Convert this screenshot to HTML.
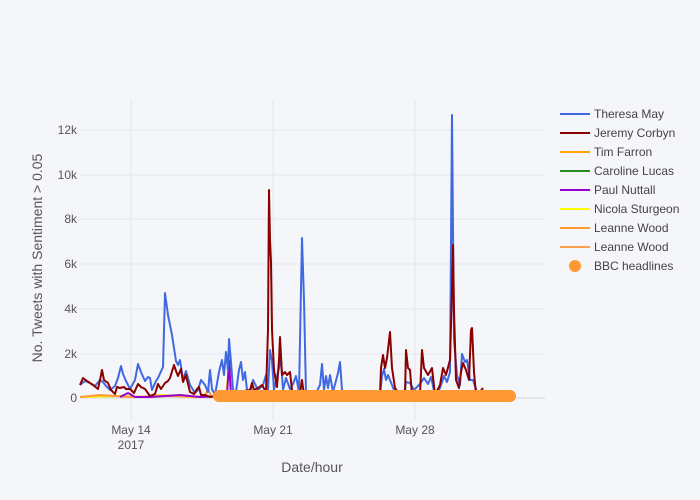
<!DOCTYPE html>
<html><head><meta charset="utf-8"><style>
html,body{margin:0;padding:0;background:#f5f6f9;}
svg{display:block;font-family:"Liberation Sans",sans-serif;}
</style></head><body>
<svg width="700" height="500" viewBox="0 0 700 500">
<rect width="700" height="500" fill="#f5f6f9"/>
<g stroke="#e4e6ee" stroke-width="1">
<line x1="80" x2="545" y1="130" y2="130"/><line x1="80" x2="545" y1="175" y2="175"/>
<line x1="80" x2="545" y1="219" y2="219"/><line x1="80" x2="545" y1="264" y2="264"/>
<line x1="80" x2="545" y1="309" y2="309"/><line x1="80" x2="545" y1="354" y2="354"/>
<line x1="131" x2="131" y1="100" y2="420"/><line x1="273" x2="273" y1="100" y2="420"/><line x1="415" x2="415" y1="100" y2="420"/>
</g>
<line x1="80" x2="545" y1="398" y2="398" stroke="#dfe1e8" stroke-width="1.5"/>
<g font-size="12" fill="#555" text-anchor="end">
<text x="77" y="134">12k</text><text x="77" y="179">10k</text><text x="77" y="223">8k</text>
<text x="77" y="268">6k</text><text x="77" y="313">4k</text><text x="77" y="358">2k</text><text x="77" y="402">0</text>
</g>
<g font-size="12" fill="#555" text-anchor="middle">
<text x="131" y="434">May 14</text><text x="131" y="449">2017</text>
<text x="273" y="434">May 21</text><text x="415" y="434">May 28</text>
</g>
<text x="312" y="472" font-size="14" fill="#555" text-anchor="middle">Date/hour</text>
<text transform="translate(42,258) rotate(-90)" font-size="14" fill="#555" text-anchor="middle">No. Tweets with Sentiment &gt; 0.05</text>
<g fill="none" stroke-width="2" stroke-linejoin="round">
<polyline stroke="#ffee00" points="80,397 120,396 140,397 160,395 190,397 215,396 226,392 229,370 231,395 260,397"/>
<polyline stroke="#ff9a33" points="80,397 100,395 130,397 170,396 205,397 208,388 211,396 240,397"/>
<polyline stroke="#9900cc" points="120,397 128,393 135,397 150,397 180,395 200,397 227,396 229,360 231,396"/>
<polyline stroke="#4169e1" points="80,385 85,381 90,383 95,386 100,380 103,382 106,386 110,390 115,386 118,378 121,366 123,374 126,381 130,389 135,380 138,364 141,372 145,381 148,377 150,378 152,390 156,381 158,378 163,367 165,293 168,315 172,335 176,361 178,365 180,360 183,380 186,371 190,385 195,393 198,390 201,380 205,385 208,392 210,370 212,389 215,395 219,372 222,360 224,375 226,352 228,370 229,339 231,362 233,390 236,392 239,370 241,362 243,380 245,372 247,390 250,395 253,380 258,390 263,385 266,375 268,390 270,350 272,361 274,390 278,372 281,360 283,390 286,378 290,389 293,384 296,376 299,392 302,238 304,300 306,393 310,392 315,395 320,385 322,364 324,390 326,376 328,388 330,375 333,392 338,373 340,362 342,390 350,395 380,395 382,376 384,369 386,380 388,375 392,385 396,395 404,395 406,382 410,383 414,390 420,384 424,378 428,384 431,377 435,395 440,388 444,376 447,382 450,372 452,115 454,340 457,375 460,385 462,354 465,362 467,360 470,380 473,380 477,392 483,392"/>
<polyline stroke="#8b0000" points="80,385 83,378 87,381 93,385 98,389 100,380 102,370 104,380 108,383 111,390 115,394 117,387 120,388 124,387 126,389 130,389 134,393 138,384 141,387 145,389 150,396 155,394 158,384 161,389 165,383 168,381 170,378 174,365 176,371 178,376 181,369 183,382 186,375 188,384 190,392 194,394 197,389 199,387 201,395 205,395 210,397 250,390 252,383 254,390 258,388 262,385 266,392 268,330 269,190 270,240 271,262 272,330 274,370 277,387 279,360 280,337 282,375 285,372 287,375 290,372 292,390 295,395 300,393 302,380 304,395 380,395 381,368 383,355 385,368 387,358 390,332 392,368 395,388 400,395 405,395 406,350 408,368 410,370 412,395 420,395 422,350 424,368 428,375 432,368 435,395 440,385 443,368 446,375 450,360 452,290 453,245 454,310 456,380 459,388 461,372 463,363 466,370 469,380 471,330 472,328 474,372 476,395 480,392 483,388"/>
</g>
<line x1="219" x2="510" y1="396" y2="396" stroke="#ff9933" stroke-width="12" stroke-linecap="round"/>
<g font-size="12" fill="#444">
<line x1="560" x2="590" y1="114" y2="114" stroke="#4169e1" stroke-width="2"/><text x="594" y="118">Theresa May</text>
<line x1="560" x2="590" y1="133" y2="133" stroke="#8b0000" stroke-width="2"/><text x="594" y="137">Jeremy Corbyn</text>
<line x1="560" x2="590" y1="152" y2="152" stroke="#ffa500" stroke-width="2"/><text x="594" y="156">Tim Farron</text>
<line x1="560" x2="590" y1="171" y2="171" stroke="#228b22" stroke-width="2"/><text x="594" y="175">Caroline Lucas</text>
<line x1="560" x2="590" y1="190" y2="190" stroke="#9400d3" stroke-width="2"/><text x="594" y="194">Paul Nuttall</text>
<line x1="560" x2="590" y1="209" y2="209" stroke="#ffff00" stroke-width="2"/><text x="594" y="213">Nicola Sturgeon</text>
<line x1="560" x2="590" y1="228" y2="228" stroke="#ff9933" stroke-width="2"/><text x="594" y="232">Leanne Wood</text>
<line x1="560" x2="590" y1="247" y2="247" stroke="#ffa050" stroke-width="2"/><text x="594" y="251">Leanne Wood</text>
<circle cx="575" cy="266" r="6" fill="#ff9933"/><text x="594" y="270">BBC headlines</text>
</g>
</svg>
</body></html>
